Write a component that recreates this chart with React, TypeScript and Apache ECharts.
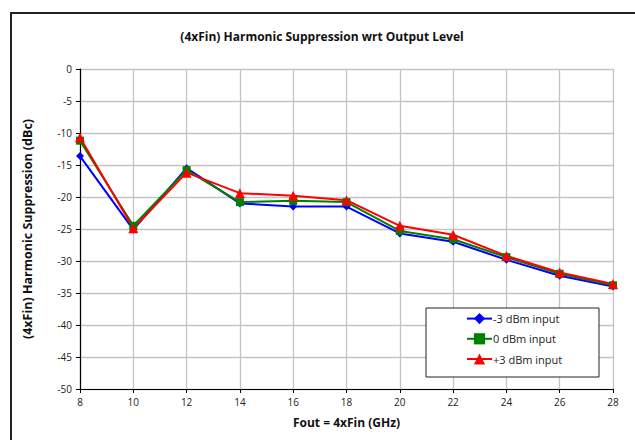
import React, { useEffect, useRef } from "react";
import * as echarts from "echarts";

const freqs = [8, 10, 12, 14, 16, 18, 20, 22, 24, 26, 28];
const minus3 = [-13.6, -25.1, -15.5, -21.0, -21.5, -21.5, -25.7, -27.0, -29.8, -32.3, -34.0];
const zero = [-11.2, -24.5, -15.8, -20.8, -20.6, -20.8, -25.3, -26.6, -29.4, -32.0, -33.8];
const plus3 = [-10.7, -24.9, -16.2, -19.4, -19.8, -20.5, -24.5, -25.9, -29.2, -31.8, -33.6];
const seriesNames = ["-3 dBm input", "0 dBm input", "+3 dBm input"];

const FONT = "'Open Sans', 'Noto Sans', sans-serif";

export default function App() {
  const ref = useRef<HTMLDivElement>(null);
  useEffect(() => {
    document.body.style.margin = "0";
    const chart = echarts.init(ref.current!, null, { renderer: "svg" });
    const mk = (vals: number[]) => freqs.map((f, i) => [f, vals[i]]);
    chart.setOption({
      animation: false,
      backgroundColor: "#ffffff",
      textStyle: { fontFamily: FONT },
      title: {
        text: "(4xFin) Harmonic Suppression wrt Output Level",
        left: 317,
        textAlign: "center",
        top: 25,
        textStyle: { fontSize: 12, fontWeight: "bold", color: "#111", fontFamily: FONT },
      },
      graphic: [
        {
          type: "rect",
          shape: { x: 11, y: 13, width: 700, height: 500 },
          style: { fill: "none", stroke: "#222", lineWidth: 2 },
          silent: true,
          z: 100,
        },
        {
          type: "rect",
          shape: { x: 426, y: 308, width: 173, height: 69 },
          style: { fill: "#fff", stroke: "#222", lineWidth: 1 },
          z: 50,
        },
      ],
      legend: {
        orient: "vertical",
        left: 466,
        top: 313,
        padding: 0,
        itemGap: 9,
        itemWidth: 25,
        itemHeight: 14,
        z: 60,
        textStyle: { fontSize: 11, color: "#222", fontFamily: FONT, padding: [0, 0, 0, -4] },
        data: seriesNames,
      },
      grid: { left: 80, right: 22, top: 69, bottom: 51, containLabel: false },
      xAxis: {
        type: "value",
        min: 8,
        max: 28,
        interval: 2,
        name: "Fout = 4xFin (GHz)",
        nameLocation: "middle",
        nameGap: 27,
        nameTextStyle: { fontSize: 12, fontWeight: "bold", color: "#111" },
        axisLine: { show: true, onZero: false, lineStyle: { color: "#000", width: 1.2 } },
        axisTick: { show: true, length: 4, lineStyle: { color: "#000" } },
        axisLabel: { fontSize: 10, color: "#222", margin: 8 },
        splitLine: { show: true, lineStyle: { color: "#c4c4c4", width: 1.3 } },
      },
      yAxis: {
        type: "value",
        min: -50,
        max: 0,
        interval: 5,
        name: "(4xFin) Harmonic Suppression (dBc)",
        nameLocation: "middle",
        nameGap: 46,
        nameTextStyle: { fontSize: 12.5, fontWeight: "bold", color: "#111" },
        axisLine: { show: true, onZero: false, lineStyle: { color: "#000", width: 1.2 } },
        axisTick: { show: true, length: 4, lineStyle: { color: "#000" } },
        axisLabel: { fontSize: 10, color: "#222", margin: 8 },
        splitLine: { show: true, lineStyle: { color: "#c4c4c4", width: 1.3 } },
      },
      series: [
        {
          name: seriesNames[0],
          type: "line",
          data: mk(minus3),
          color: "#0000ff",
          symbol: "diamond",
          symbolSize: 8,
          lineStyle: { width: 2 },
        },
        {
          name: seriesNames[1],
          type: "line",
          data: mk(zero),
          color: "#008000",
          symbol: "rect",
          symbolSize: 8,
          lineStyle: { width: 2 },
        },
        {
          name: seriesNames[2],
          type: "line",
          data: mk(plus3),
          color: "#ff0000",
          symbol: "triangle",
          symbolSize: 10,
          lineStyle: { width: 2 },
        },
      ],
    });
    return () => chart.dispose();
  }, []);
  return <div ref={ref} style={{ width: 635, height: 440 }} />;
}
